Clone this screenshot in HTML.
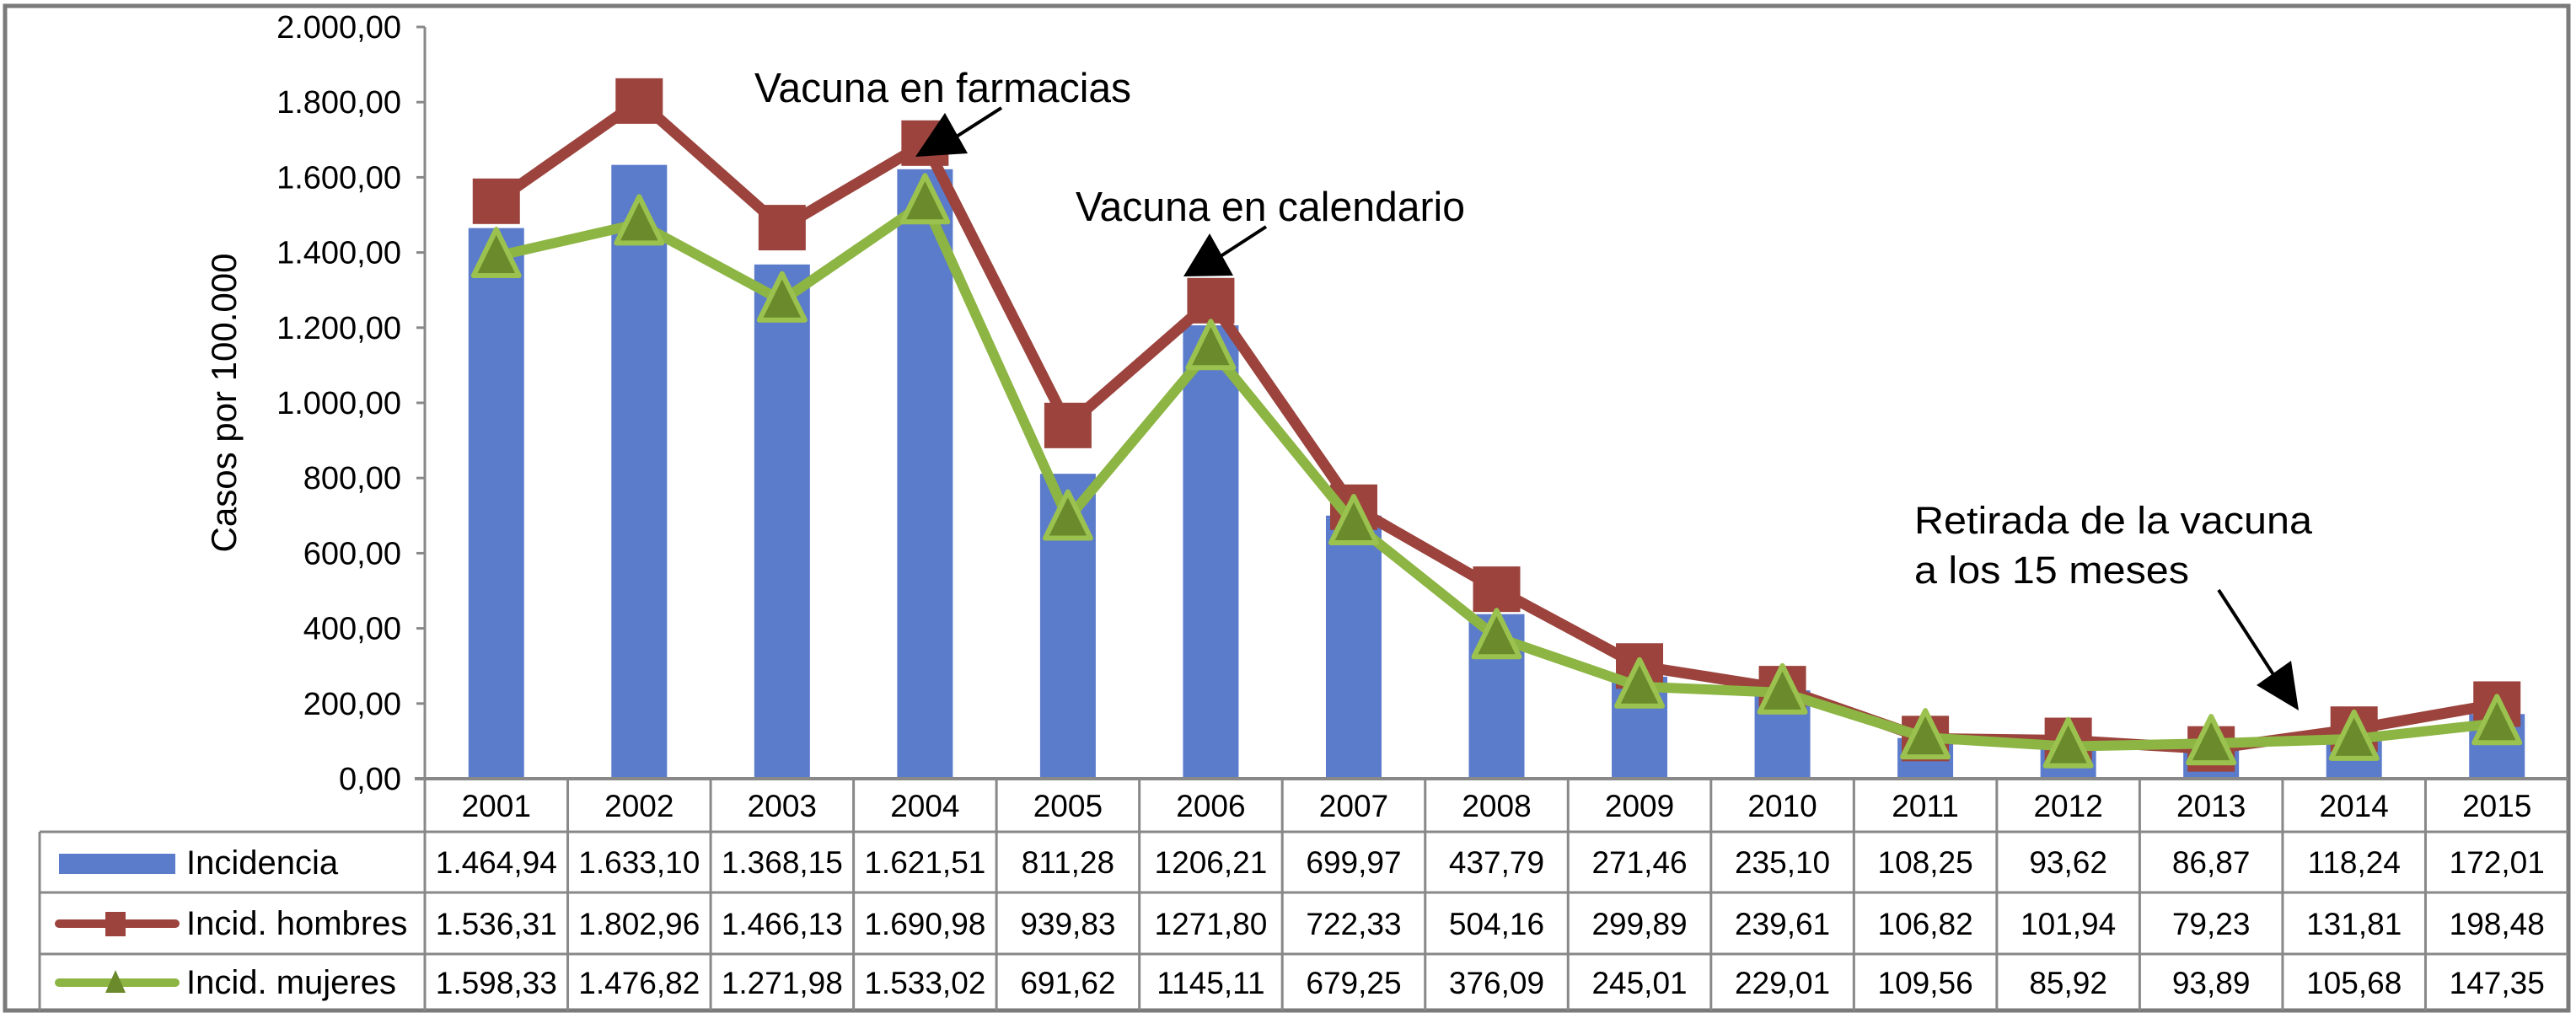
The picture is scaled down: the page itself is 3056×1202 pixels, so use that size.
<!DOCTYPE html>
<html><head><meta charset="utf-8"><style>
html,body{margin:0;padding:0;background:#fff;width:3056px;height:1202px;overflow:hidden}
svg text{font-family:"Liberation Sans",sans-serif;fill:#000}
</style></head><body>
<svg id="chart" width="3056" height="1202" viewBox="0 0 3056 1202" xmlns="http://www.w3.org/2000/svg">
<rect x="6" y="7" width="3041" height="1192" fill="#fff" stroke="#7a7a7a" stroke-width="5"/>
<g id="grid"></g><g id="bars"></g><g id="lines"></g><g id="table"></g>
<text transform="translate(280,478) rotate(-90)" text-anchor="middle" font-size="42">Casos por 100.000</text>
<g>
<text x="895" y="121" font-size="49" textLength="447" lengthAdjust="spacingAndGlyphs">Vacuna en farmacias</text>
<line x1="1188" y1="128" x2="1130" y2="165" stroke="#000" stroke-width="4"/>
<polygon points="1121,134 1086,186 1148,182" fill="#000"/>
</g>
<g>
<text x="1276" y="262" font-size="49" textLength="462" lengthAdjust="spacingAndGlyphs">Vacuna en calendario</text>
<line x1="1502" y1="269" x2="1445" y2="306" stroke="#000" stroke-width="4"/>
<polygon points="1435,277 1404,328 1463,327" fill="#000"/>
</g>
<g>
<text x="2271" y="633" font-size="45" textLength="472" lengthAdjust="spacingAndGlyphs">Retirada de la vacuna</text>
<text x="2271" y="692" font-size="45" textLength="326" lengthAdjust="spacingAndGlyphs">a los 15 meses</text>
<line x1="2632" y1="700" x2="2700" y2="805" stroke="#000" stroke-width="4"/>
<polygon points="2727,843 2677,813 2718,784" fill="#000"/>
</g>
</svg>
<script>
const years=["2001","2002","2003","2004","2005","2006","2007","2008","2009","2010","2011","2012","2013","2014","2015"];
const incidencia=[1464.94,1633.10,1368.15,1621.51,811.28,1206.21,699.97,437.79,271.46,235.10,108.25,93.62,86.87,118.24,172.01];
const hombres=[1536.31,1802.96,1466.13,1690.98,939.83,1271.80,722.33,504.16,299.89,239.61,106.82,101.94,79.23,131.81,198.48];
const mujeres=[1390,1476.82,1271.98,1533.02,691.62,1145.11,679.25,376.09,245.01,229.01,109.56,85.92,93.89,105.68,147.35];
const incidenciaLabels=["1.464,94","1.633,10","1.368,15","1.621,51","811,28","1206,21","699,97","437,79","271,46","235,10","108,25","93,62","86,87","118,24","172,01"];
const hombresLabels=["1.536,31","1.802,96","1.466,13","1.690,98","939,83","1271,80","722,33","504,16","299,89","239,61","106,82","101,94","79,23","131,81","198,48"];
const mujeresLabels=["1.598,33","1.476,82","1.271,98","1.533,02","691,62","1145,11","679,25","376,09","245,01","229,01","109,56","85,92","93,89","105,68","147,35"];
const yTicks=[0,200,400,600,800,1000,1200,1400,1600,1800,2000];
const yTickLabels=["0,00","200,00","400,00","600,00","800,00","1.000,00","1.200,00","1.400,00","1.600,00","1.800,00","2.000,00"];

const NS="http://www.w3.org/2000/svg";
const X0=504,X1=3047,Y0=924,YTOP=32,VMAX=2000;
const colW=(X1-X0)/years.length;
const xc=i=>X0+colW*(i+0.5);
const y=v=>Y0-(v/VMAX)*(Y0-YTOP);
function mk(tag,attrs,parent,txt){const e=document.createElementNS(NS,tag);for(const k in attrs)e.setAttribute(k,attrs[k]);if(txt!==undefined)e.textContent=txt;parent.appendChild(e);return e;}
const grid=document.getElementById('grid'),bars=document.getElementById('bars'),lines=document.getElementById('lines'),table=document.getElementById('table');

let ax=mk('line',{x1:X0,y1:YTOP,x2:X0,y2:Y0,stroke:'#888','stroke-width':3},grid);


yTicks.forEach((t,i)=>{
  let tk=mk('line',{x1:X0-10,y1:y(t),x2:X0,y2:y(t),stroke:'#888','stroke-width':3},grid);
  
  
  let lb=mk('text',{x:476,y:y(t)+13,'text-anchor':'end','font-size':38},grid,yTickLabels[i]);
  
  
});

incidencia.forEach((v,i)=>{
  let r=mk('rect',{x:xc(i)-33,y:y(v),width:66,height:Y0-y(v),fill:'#5b7bcb'},bars);
  
  
});

function series(vals,color,w,name){
  let p=mk('polyline',{points:vals.map((v,i)=>xc(i)+','+y(v)).join(' '),fill:'none',stroke:color,'stroke-width':w,'stroke-linejoin':'round'},lines);
  
  
}
series(hombres,'#9b433c',13,'hombres');
hombres.forEach((v,i)=>{
  let m=mk('rect',{x:xc(i)-28,y:y(v)-27,width:56,height:54,fill:'#9b433c'},lines);
  
  
});
series(mujeres,'#8db543',12,'mujeres');
mujeres.forEach((v,i)=>{
  const cx=xc(i),cy=y(v);
  let m=mk('polygon',{points:`${cx},${cy-32} ${cx-27},${cy+23} ${cx+27},${cy+23}`,fill:'#6a8a2c',stroke:'#9bc24f','stroke-width':6,'stroke-linejoin':'round'},lines);
  
  
});

const LEFT=47;
let base=mk('line',{x1:X0-12,y1:Y0,x2:X1,y2:Y0,stroke:'#888','stroke-width':4},table);


[987,1059,1132].forEach(yy=>{
  let l=mk('line',{x1:LEFT,y1:yy,x2:X1,y2:yy,stroke:'#888','stroke-width':3},table);
  
  
});
let lv=mk('line',{x1:LEFT,y1:987,x2:LEFT,y2:1199,stroke:'#888','stroke-width':3},table);


for(let i=0;i<years.length;i++){
  let c=mk('line',{x1:X0+colW*i,y1:924,x2:X0+colW*i,y2:1199,stroke:'#888','stroke-width':3},table);
  
  
}
years.forEach((yr,i)=>{
  let t=mk('text',{x:xc(i),y:969,'text-anchor':'middle','font-size':37},table,yr);
  
  
});
const rowDefs=[[incidenciaLabels,1036],[hombresLabels,1109],[mujeresLabels,1179]];
rowDefs.forEach(([arr,by],r)=>{
  arr.forEach((s,i)=>{
    let t=mk('text',{x:xc(i),y:by,'text-anchor':'middle','font-size':37},table,s);
    
    
  });
});
let k1=mk('rect',{x:70,y:1013,width:138,height:24,fill:'#5b7bcb'},table);


let k2=mk('line',{x1:70,y1:1096,x2:208,y2:1096,stroke:'#9b433c','stroke-width':10,'stroke-linecap':'round'},table);


let k2m=mk('rect',{x:125,y:1082,width:24,height:29,fill:'#9b433c'},table);


let k3=mk('line',{x1:70,y1:1166,x2:208,y2:1166,stroke:'#8db543','stroke-width':10,'stroke-linecap':'round'},table);


let k3m=mk('polygon',{points:'137,1151 125,1178 149,1178',fill:'#6a8a2c'},table);


[["Incidencia",1037],["Incid. hombres",1109],["Incid. mujeres",1179]].forEach(([s,by])=>{
  let t=mk('text',{x:221,y:by,'font-size':40},table,s);
  
  
});
</script>
</body></html>
